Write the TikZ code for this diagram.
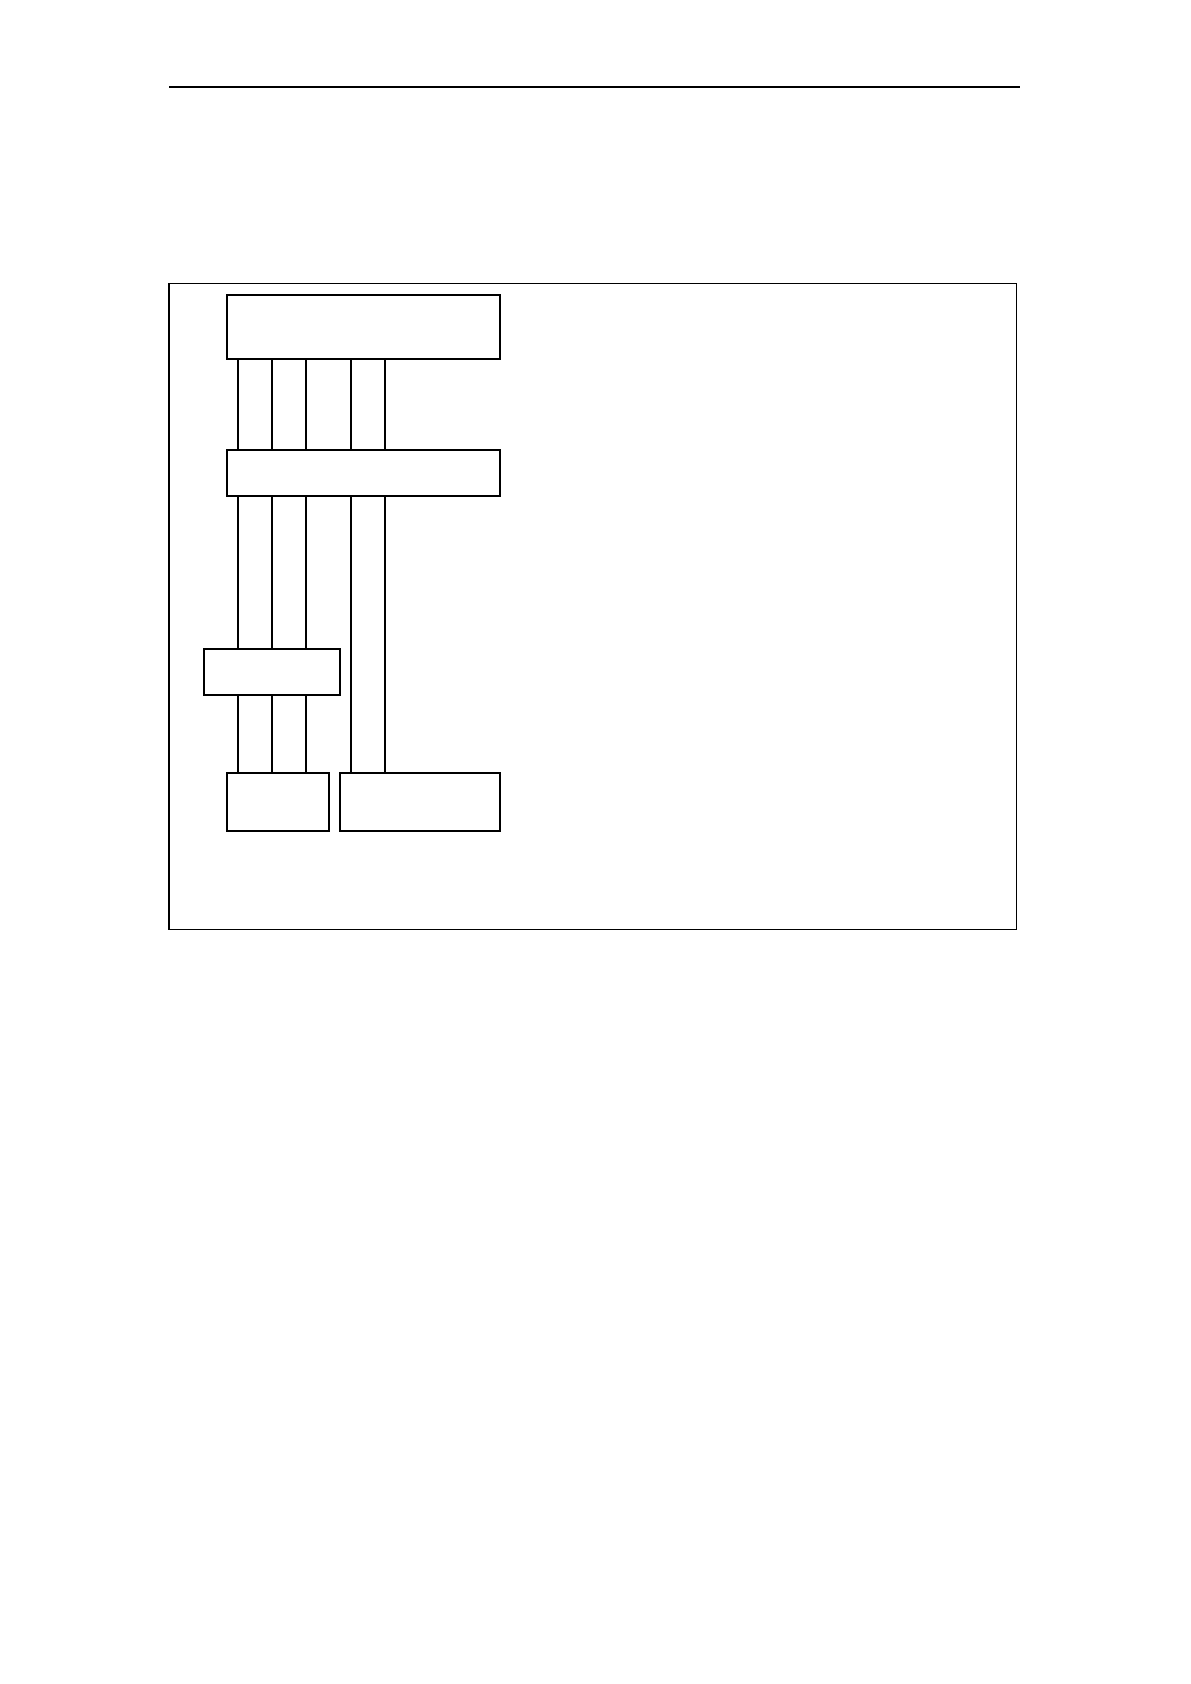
\documentclass[tikz,border=0pt]{standalone}
\begin{document}
\begin{tikzpicture}[x=0.5pt,y=-0.5pt,
  box/.style={draw,line width=1pt,rectangle,inner sep=0pt,outer sep=0pt},
  wire/.style={draw,line width=0.9pt},
  framestyle/.style={draw,line width=0.55pt}]
\useasboundingbox (0,0) rectangle (1190,1684);
% header rule
\coordinate (rl) at (169,87);
\coordinate (rr) at (1019.5,87);
\draw[framestyle] (rl) -- (rr);
% frame
\node[framestyle,rectangle,inner sep=0pt,minimum width=423.75pt,minimum height=323pt] (frame) at (592.75,606.5) {};
% boxes
\node[box,minimum width=136.5pt,minimum height=32pt] (b1) at (363,327.5) {};
\node[box,minimum width=136.5pt,minimum height=22.75pt] (b2) at (363,472.8) {};
\node[box,minimum width=68.25pt,minimum height=23pt] (b3) at (271.75,672) {};
\node[box,minimum width=51pt,minimum height=28.75pt] (b4) at (278,801.75) {};
\node[box,minimum width=79.75pt,minimum height=28.75pt] (b5) at (419.75,801.75) {};
% wire x positions
\foreach \n/\x in {a/238,b/272,c/306,d/351,e/385}{\coordinate (x\n) at (\x,0);}
% b1 -> b2
\foreach \n in {a,b,c,d,e}{\draw[wire] (b1.south -| x\n) -- (b2.north -| x\n);}
% b2 -> b3
\foreach \n in {a,b,c}{\draw[wire] (b2.south -| x\n) -- (b3.north -| x\n);}
% b3 -> b4
\foreach \n in {a,b,c}{\draw[wire] (b3.south -| x\n) -- (b4.north -| x\n);}
% b2 -> b5
\foreach \n in {d,e}{\draw[wire] (b2.south -| x\n) -- (b5.north -| x\n);}
\end{tikzpicture}
\end{document}
